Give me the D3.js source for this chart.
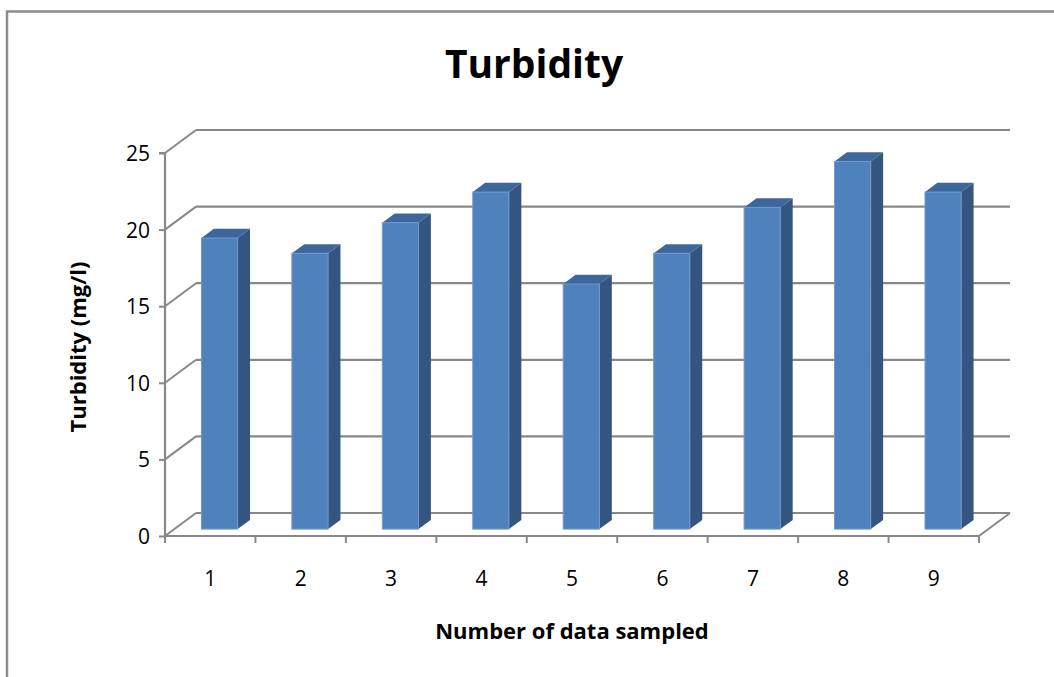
<!DOCTYPE html>
<html>
<head>
<meta charset="utf-8">
<script src="https://cdn.jsdelivr.net/npm/d3@7"></script>
<style>
  html, body { margin: 0; padding: 0; background: #fff; }
  svg { display: block; }
  text { font-family: "Open Sans", Lato, sans-serif; fill: #000; }
</style>
</head>
<body>
<script>
// Turbidity readings per sample
const categories = ["1", "2", "3", "4", "5", "6", "7", "8", "9"];
const turbidity = [19, 18, 20, 22, 16, 18, 21, 24, 22];
const yTicks = [0, 5, 10, 15, 20, 25];

const W = 1054, H = 677;
const svg = d3.select("body").append("svg").attr("width", W).attr("height", H);

// chart frame
svg.append("path")
  .attr("d", `M${W + 5},11.5 H7 V${H + 5}`)
  .attr("fill", "none").attr("stroke", "#8c8c8c").attr("stroke-width", 2.5);

// front plane scales
const x = d3.scaleBand().domain(categories).range([165, 979]).padding(0);
const y = d3.scaleLinear().domain([0, 25]).range([536, 153]);

// depth projection (0 = front, 1 = back wall)
const DX = 31, DY = -23;
const proj = (px, py, d) => [px + DX * d, py + DY * d];

const grid = "#888888";
const g = svg.append("g");

// back wall gridlines and side-wall diagonals
yTicks.forEach(t => {
  const [bx, by] = proj(x.range()[0], y(t), 1);
  const [ex] = proj(x.range()[1], y(t), 1);
  g.append("line").attr("x1", bx).attr("y1", by).attr("x2", ex).attr("y2", by)
    .attr("stroke", grid).attr("stroke-width", 2.2);
  g.append("line").attr("x1", x.range()[0]).attr("y1", y(t)).attr("x2", bx).attr("y2", by)
    .attr("stroke", grid).attr("stroke-width", 2);
});

// floor right edge
{
  const [rx, ry] = proj(x.range()[1], y(0), 1);
  g.append("line").attr("x1", x.range()[1]).attr("y1", y(0)).attr("x2", rx).attr("y2", ry)
    .attr("stroke", grid).attr("stroke-width", 2);
}

// front value axis
const yAxis = d3.axisLeft(y).tickValues(yTicks).tickSize(6).tickPadding(9).tickFormat(d3.format("d"));
const ya = svg.append("g").attr("transform", "translate(165,0)").call(yAxis);
ya.select(".domain").attr("stroke", grid).attr("stroke-width", 2.2).attr("d", `M-6,${y(25)}H0V${y(0)}`);
ya.selectAll(".tick line").attr("stroke", grid).attr("stroke-width", 2);
ya.selectAll(".tick text").style("font-size", "21px").style("font-family", "'Open Sans', sans-serif").attr("dy", "0.36em");

// front category axis
const xAxis = d3.axisBottom(x).tickSize(0).tickPadding(35);
const xa = svg.append("g").attr("transform", `translate(0,${y(0)})`).call(xAxis);
xa.select(".domain").attr("stroke", grid).attr("stroke-width", 2.2).attr("d", `M${x.range()[0]},0H${x.range()[1]}`);
xa.selectAll(".tick text").style("font-size", "21px").style("font-family", "'Open Sans', sans-serif");
// category boundary ticks
const bounds = categories.map(c => x(c)).concat([x.range()[1]]);
xa.selectAll(".bound").data(bounds).join("line").attr("class", "bound")
  .attr("x1", d => d).attr("x2", d => d).attr("y1", 0).attr("y2", 7)
  .attr("stroke", grid).attr("stroke-width", 2);

// 3D columns
const bw = x.bandwidth() * 0.4;
const d0 = 0.3, d1 = 0.7;
const bars = svg.append("g").selectAll("g").data(categories.map((c, i) => ({ c, v: turbidity[i] }))).join("g");

bars.each(function (d) {
  const cx = x(d.c) + x.bandwidth() / 2;
  const [fx, fy0] = proj(cx - bw / 2, y(0), d0);
  const [, fyt] = proj(cx, y(d.v), d0);
  const fx2 = fx + bw;
  const ddx = DX * (d1 - d0), ddy = DY * (d1 - d0);
  const sel = d3.select(this);
  // side face
  sel.append("path")
    .attr("d", `M${fx2},${fyt} L${fx2 + ddx},${fyt + ddy} L${fx2 + ddx},${fy0 + ddy} L${fx2},${fy0} Z`)
    .attr("fill", "#33557f");
  // top face
  sel.append("path")
    .attr("d", `M${fx},${fyt} L${fx + ddx},${fyt + ddy} L${fx2 + ddx},${fyt + ddy} L${fx2},${fyt} Z`)
    .attr("fill", "#3d679a");
  // front face
  sel.append("rect")
    .attr("x", fx).attr("y", fyt).attr("width", bw).attr("height", fy0 - fyt)
    .attr("fill", "#4f81bd").attr("stroke", "#6f9ad0").attr("stroke-width", 1);
});

// titles
svg.append("text").attr("x", 534).attr("y", 78).attr("text-anchor", "middle")
  .style("font-size", "39px").style("font-weight", "bold").text("Turbidity");

svg.append("text").attr("x", 572).attr("y", 639).attr("text-anchor", "middle")
  .style("font-size", "22px").style("font-weight", "bold").text("Number of data sampled");

svg.append("text").attr("transform", "translate(86,347) rotate(-90)").attr("text-anchor", "middle")
  .style("font-size", "22px").style("font-weight", "bold").text("Turbidity (mg/l)");
</script>
</body>
</html>
